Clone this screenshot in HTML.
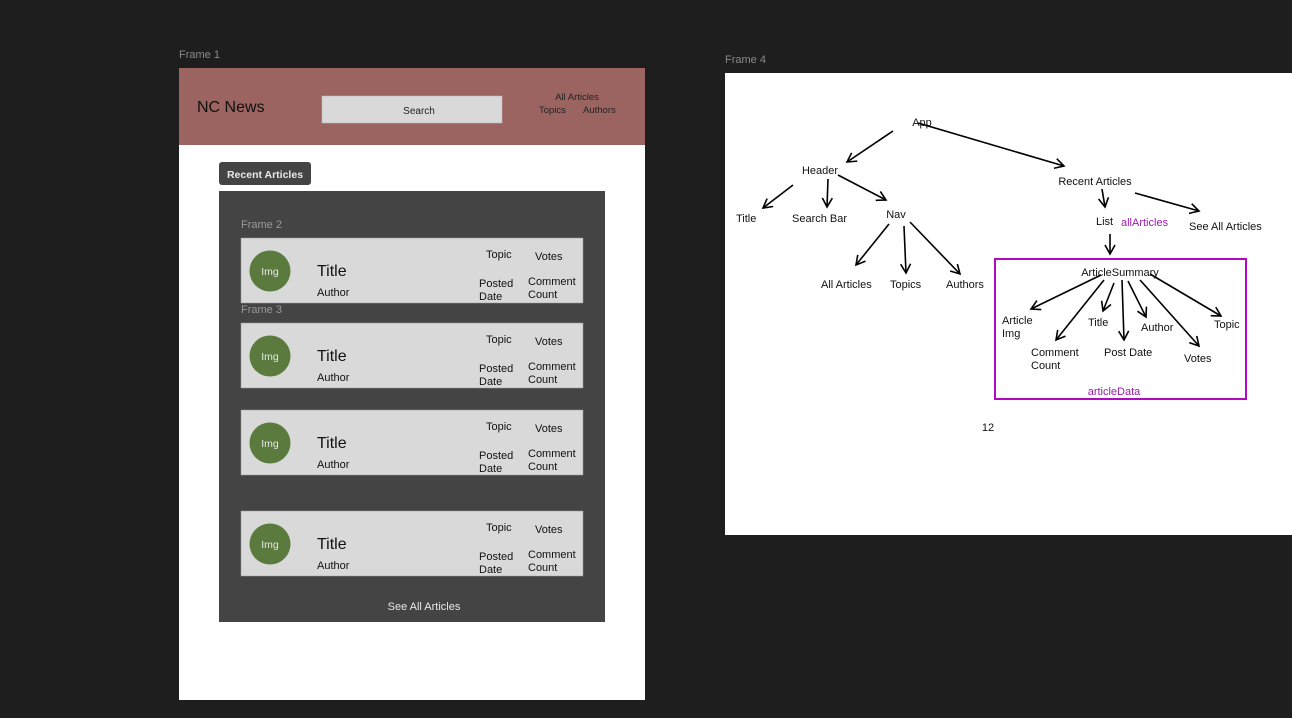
<!DOCTYPE html>
<html><head><meta charset="utf-8"><style>
html,body{margin:0;padding:0;background:#1e1e1e;width:1292px;height:718px;overflow:hidden}
svg{display:block}
text{font-family:"Liberation Sans",sans-serif}
</style></head><body>
<svg width="1292" height="718" viewBox="0 0 1292 718" xmlns="http://www.w3.org/2000/svg">
<defs>
<marker id="a" viewBox="0 0 12 12" refX="10" refY="6" markerWidth="12" markerHeight="12" markerUnits="userSpaceOnUse" orient="auto">
<path d="M1,1 L10,6 L1,11" fill="none" stroke="#000" stroke-width="1.6"/>
</marker>
</defs>
<rect width="1292" height="718" fill="#1e1e1e"/>
<!-- Frame 1 -->
<text x="179" y="58" font-size="11" fill="#8a8a8a">Frame 1</text>
<rect x="179" y="68" width="466" height="632" fill="#fff"/>
<rect x="179" y="68" width="466" height="77" fill="#9c6461"/>
<text x="197" y="112" font-size="16" fill="#111">NC News</text>
<rect x="322" y="96" width="180" height="27" fill="#d9d9d9" stroke="#bbb" stroke-width="0.5"/>
<text x="419" y="114" font-size="10" fill="#222" text-anchor="middle">Search</text>
<text x="577" y="100" font-size="9.5" fill="#222" text-anchor="middle">All Articles</text>
<text x="539" y="113" font-size="9.5" fill="#222">Topics</text>
<text x="583" y="113" font-size="9.5" fill="#222">Authors</text>
<rect x="219" y="162" width="92" height="23" rx="3" fill="#444"/>
<text x="265" y="178" font-size="10.5" font-weight="bold" fill="#e8e8e8" text-anchor="middle">Recent Articles</text>
<rect x="219" y="191" width="386" height="431" fill="#444"/>
<text x="241" y="228" font-size="11" fill="#9a9a9a">Frame 2</text>
<text x="241" y="313" font-size="11" fill="#9a9a9a">Frame 3</text>
<g id="cards">
</g>
<text x="424" y="610" font-size="11" fill="#e8e8e8" text-anchor="middle">See All Articles</text>

<!-- Frame 4 -->
<text x="725" y="63" font-size="11" fill="#8a8a8a">Frame 4</text>
<rect x="725" y="73" width="567" height="462" fill="#fff"/>
<g font-size="11" fill="#111">
<text x="922" y="126" text-anchor="middle">App</text>
<text x="820" y="174" text-anchor="middle">Header</text>
<text x="1095" y="185" text-anchor="middle">Recent Articles</text>
<text x="736" y="222">Title</text>
<text x="792" y="222">Search Bar</text>
<text x="896" y="218" text-anchor="middle">Nav</text>
<text x="821" y="288">All Articles</text>
<text x="890" y="288">Topics</text>
<text x="946" y="288">Authors</text>
<text x="1096" y="225">List</text>
<text x="1121" y="226" fill="#9b1bb0">allArticles</text>
<text x="1189" y="230">See All Articles</text>
<text x="1120" y="276" text-anchor="middle">ArticleSummary</text>
<text x="1002" y="324">Article</text>
<text x="1002" y="337">Img</text>
<text x="1031" y="356">Comment</text>
<text x="1031" y="369">Count</text>
<text x="1088" y="326">Title</text>
<text x="1104" y="356">Post Date</text>
<text x="1141" y="331">Author</text>
<text x="1184" y="362">Votes</text>
<text x="1214" y="328">Topic</text>
<text x="1114" y="395" fill="#9b1bb0" text-anchor="middle">articleData</text>
<text x="988" y="431" text-anchor="middle">12</text>
</g>
<rect x="995" y="259" width="251" height="140" fill="none" stroke="#b00ac0" stroke-width="2"/>
<g stroke="#000" stroke-width="1.6" fill="none" marker-end="url(#a)">
<line x1="893" y1="131" x2="847" y2="162"/>
<line x1="918" y1="123" x2="1064" y2="166"/>
<line x1="793" y1="185" x2="763" y2="208"/>
<line x1="828" y1="179" x2="827" y2="207"/>
<line x1="838" y1="175" x2="886" y2="200"/>
<line x1="889" y1="224" x2="856" y2="265"/>
<line x1="904" y1="226" x2="906" y2="273"/>
<line x1="910" y1="222" x2="960" y2="274"/>
<line x1="1102" y1="189" x2="1105" y2="207"/>
<line x1="1135" y1="193" x2="1199" y2="211"/>
<line x1="1110" y1="234" x2="1110" y2="254"/>
<line x1="1101" y1="275" x2="1031" y2="309"/>
<line x1="1104" y1="280" x2="1056" y2="340"/>
<line x1="1114" y1="283" x2="1103" y2="311"/>
<line x1="1122" y1="280" x2="1124" y2="340"/>
<line x1="1128" y1="281" x2="1146" y2="317"/>
<line x1="1140" y1="280" x2="1199" y2="346"/>
<line x1="1150" y1="274" x2="1221" y2="316"/>
</g>
</svg>
<script>
(function(){
var g=document.getElementById('cards');var ys=[238,323,410,511];var h='';
ys.forEach(function(y){
h+='<rect x="241" y="'+y+'" width="342" height="65" fill="#d9d9d9" stroke="#9a9a9a" stroke-width="0.5"/>'+
'<circle cx="270" cy="'+(y+33)+'" r="20.5" fill="#5a7a3e"/>'+
'<text x="270" y="'+(y+37)+'" font-size="10.5" fill="#e6e6e6" text-anchor="middle">Img</text>'+
'<text x="317" y="'+(y+38)+'" font-size="16" fill="#111">Title</text>'+
'<text x="317" y="'+(y+58)+'" font-size="11" fill="#111">Author</text>'+
'<text x="486" y="'+(y+20)+'" font-size="11" fill="#111">Topic</text>'+
'<text x="535" y="'+(y+22)+'" font-size="11" fill="#111">Votes</text>'+
'<text x="479" y="'+(y+49)+'" font-size="11" fill="#111">Posted</text>'+
'<text x="479" y="'+(y+62)+'" font-size="11" fill="#111">Date</text>'+
'<text x="528" y="'+(y+47)+'" font-size="11" fill="#111">Comment</text>'+
'<text x="528" y="'+(y+60)+'" font-size="11" fill="#111">Count</text>';
});
g.innerHTML=h;
})();
</script>
</body></html>
